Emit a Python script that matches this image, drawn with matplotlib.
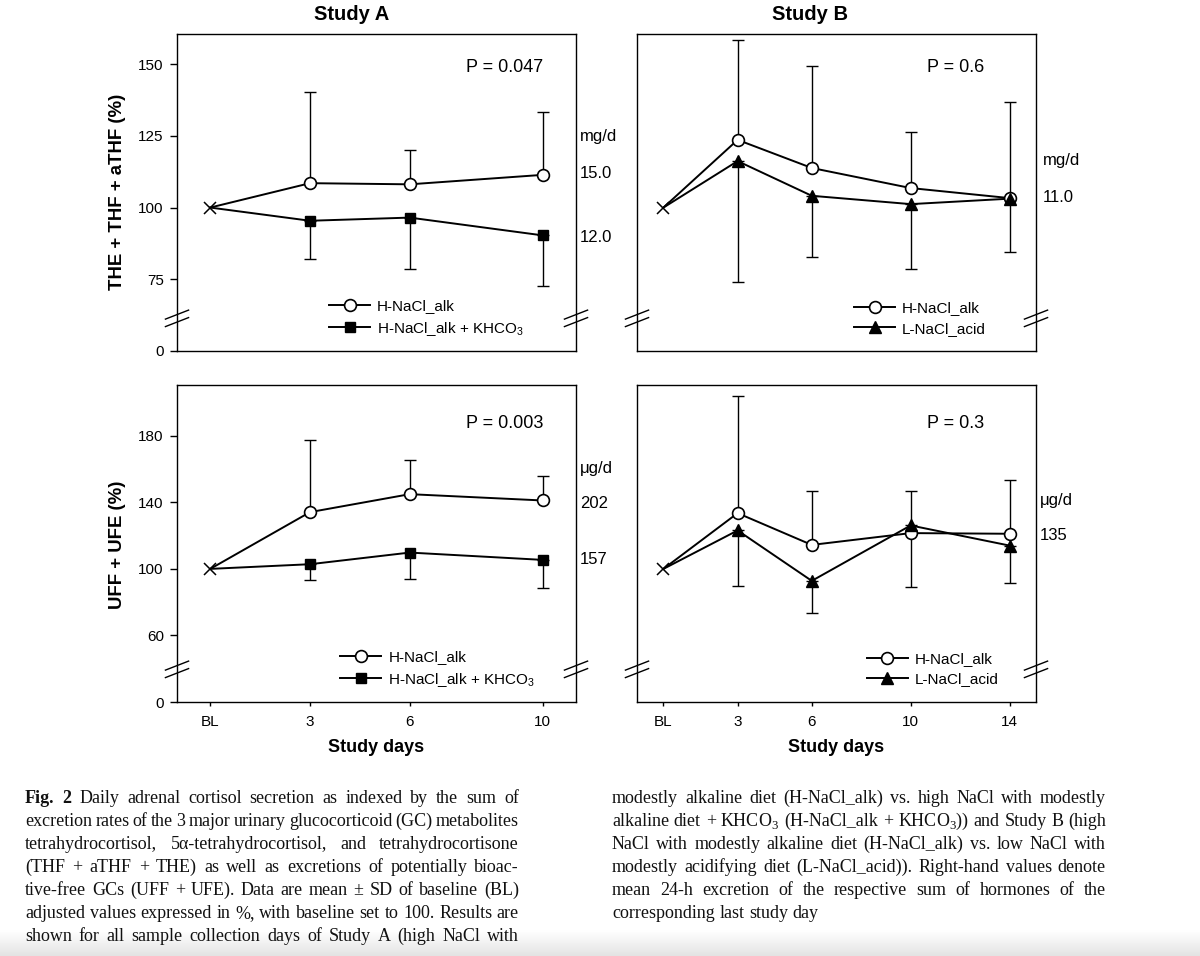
import numpy as np
import matplotlib
matplotlib.use('Agg')
import matplotlib.pyplot as plt
from matplotlib.lines import Line2D

W, H, DPI = 1200, 956, 100
plt.rcParams['font.family'] = ['Liberation Sans', 'DejaVu Sans']

# ---------------- data ----------------
days_A = [0, 3, 6, 10]
xtick_labels_A = ['BL', '3', '6', '10']
days_B = [0, 3, 6, 10, 14]
xtick_labels_B = ['BL', '3', '6', '10', '14']

# THE + THF + aTHF (%), Study A
a_gc_alk = [100, 108.5, 108.1, 111.4]
a_gc_alk_sd = [0, 31.8, 11.9, 21.9]
a_gc_khco3 = [100, 95.4, 96.5, 90.3]
a_gc_khco3_sd = [0, 13.5, 17.8, 17.6]

# THE + THF + aTHF (%), Study B
b_gc_alk = [100, 123.6, 113.8, 106.8, 103.3]
b_gc_alk_sd = [0, 34.9, 35.4, 19.6, 33.5]
b_gc_acid = [100, 116.2, 104.1, 101.2, 103.1]
b_gc_acid_sd = [0, 42.0, 21.5, 22.6, 18.7]

# UFF + UFE (%), Study A
a_uf_alk = [100, 134.1, 144.9, 141.1]
a_uf_alk_sd = [0, 43.3, 20.3, 15.0]
a_uf_khco3 = [100, 102.8, 109.8, 105.4]
a_uf_khco3_sd = [0, 9.4, 16.0, 17.0]

# UFF + UFE (%), Study B
b_uf_alk = [100, 133.5, 114.4, 121.5, 121.1]
b_uf_alk_sd = [0, 70.6, 32.1, 25.0, 32.4]
b_uf_acid = [100, 123.1, 92.8, 126.1, 114.0]
b_uf_acid_sd = [0, 33.3, 19.1, 37.1, 22.2]

# broken y axes: bottom tick labelled "0"
gc_yticks = [50, 75, 100, 125, 150]
gc_ytick_labels = ['0', '75', '100', '125', '150']
gc_ylim = (50, 160.5)
uf_yticks = [20, 60, 100, 140, 180]
uf_ytick_labels = ['0', '60', '100', '140', '180']
uf_ylim = (20, 210.5)

p_values = ['P = 0.047', 'P = 0.6', 'P = 0.003', 'P = 0.3']
right_gc_A = ['mg/d', '15.0', '12.0']
right_gc_B = ['mg/d', '11.0']
right_uf_A = ['\u03bcg/d', '202', '157']
right_uf_B = ['\u03bcg/d', '135']

lab_alk = 'H-NaCl_alk'
lab_khco3 = 'H-NaCl_alk + KHCO$_\\mathregular{3}$'
lab_acid = 'L-NaCl_acid'

# ---------------- figure ----------------
fig = plt.figure(figsize=(W / DPI, H / DPI), dpi=DPI)

# faint gradient at the bottom edge
gax = fig.add_axes([0, 0, 1, 26 / H])
grad = np.linspace(0.89, 1.0, 64).reshape(-1, 1)
gax.imshow(grad, aspect='auto', cmap='gray', vmin=0, vmax=1, origin='lower',
           extent=[0, 1, 0, 1])
gax.set_axis_off()


def pax(l, t, r, b):
    return fig.add_axes([l / W, 1 - b / H, (r - l) / W, (b - t) / H])


def ftext(x, y, s, **kw):
    return fig.text(x / W, 1 - y / H, s, **kw)


ax_tl = pax(177, 34, 576, 351)
ax_tr = pax(637, 34, 1036, 351)
ax_bl = pax(177, 385, 576, 702)
ax_br = pax(637, 385, 1036, 702)

LW = 1.4


def panel(ax, days, s1, sd1, s2, sd2, m2, ms2):
    d = np.array(days)
    s1 = np.array(s1); s2 = np.array(s2)
    sd1 = np.array(sd1); sd2 = np.array(sd2)
    z = np.zeros(len(d) - 1)
    ax.errorbar(d[1:], s1[1:], yerr=[z, sd1[1:]], fmt='none', ecolor='k',
                elinewidth=1.0, capsize=4.5, capthick=1.0, zorder=2)
    ax.errorbar(d[1:], s2[1:], yerr=[sd2[1:], z], fmt='none', ecolor='k',
                elinewidth=1.0, capsize=4.5, capthick=1.0, zorder=2)
    ax.plot(d, s1, color='k', lw=LW, zorder=3)
    ax.plot(d, s2, color='k', lw=LW, zorder=3)
    ax.plot(d[1:], s1[1:], 'o', mfc='white', mec='k', ms=8.5, mew=1.2, zorder=4)
    ax.plot(d[1:], s2[1:], m2, mfc='k', mec='k', ms=ms2, mew=1.0, zorder=5)
    ax.plot(d[:1], s1[:1], 'x', color='k', ms=9, mew=1.1, zorder=6)


def breaks(ax, y=0.103):
    dx, dy, off = 0.029, 0.0142, 0.0118
    for xa in (0, 1):
        for o in (-off, off):
            ax.plot([xa - dx, xa + dx], [y + o - dy, y + o + dy],
                    transform=ax.transAxes, color='k', lw=1.0,
                    clip_on=False, zorder=7)


def style(ax, xlim, xticks, xlabels, ylim, yticks, ylabels, show_x, show_y):
    ax.set_xlim(*xlim)
    ax.set_ylim(*ylim)
    for sp in ax.spines.values():
        sp.set_linewidth(1.0)
    ax.set_xticks(xticks)
    ax.set_yticks(yticks)
    if show_x:
        ax.set_xticklabels(xlabels, fontsize=11)
        ax.tick_params(axis='x', direction='out', length=3.2, width=1.0, pad=6)
    else:
        ax.tick_params(axis='x', length=0, labelbottom=False)
    if show_y:
        ax.set_yticklabels(ylabels, fontsize=11)
        ax.tick_params(axis='y', direction='out', length=5, width=1.0, pad=4.5)
    else:
        ax.tick_params(axis='y', length=0, labelleft=False)


def legend(ax, h2, l2, x, y):
    h1 = Line2D([], [], color='k', lw=LW, marker='o', mfc='white', mec='k', ms=8.5, mew=1.2)
    ax.legend([h1, h2], [lab_alk, l2], loc='upper left', bbox_to_anchor=(x, y),
              frameon=False, borderpad=0, borderaxespad=0, handlelength=2.7,
              handletextpad=0.45, labelspacing=0.42, fontsize=11, numpoints=1)


sq = Line2D([], [], color='k', lw=LW, marker='s', mfc='k', mec='k', ms=7.5)
tri = Line2D([], [], color='k', lw=LW, marker='^', mfc='k', mec='k', ms=8)

panel(ax_tl, days_A, a_gc_alk, a_gc_alk_sd, a_gc_khco3, a_gc_khco3_sd, 's', 7.5)
panel(ax_tr, days_B, b_gc_alk, b_gc_alk_sd, b_gc_acid, b_gc_acid_sd, '^', 8)
panel(ax_bl, days_A, a_uf_alk, a_uf_alk_sd, a_uf_khco3, a_uf_khco3_sd, 's', 7.5)
panel(ax_br, days_B, b_uf_alk, b_uf_alk_sd, b_uf_acid, b_uf_acid_sd, '^', 8)

style(ax_tl, (-1, 11), days_A, xtick_labels_A, gc_ylim, gc_yticks, gc_ytick_labels, False, True)
style(ax_tr, (-1.07, 15.07), days_B, xtick_labels_B, gc_ylim, gc_yticks, gc_ytick_labels, False, False)
style(ax_bl, (-1, 11), days_A, xtick_labels_A, uf_ylim, uf_yticks, uf_ytick_labels, True, True)
style(ax_br, (-1.07, 15.07), days_B, xtick_labels_B, uf_ylim, uf_yticks, uf_ytick_labels, True, False)

for a in (ax_tl, ax_tr, ax_bl, ax_br):
    breaks(a)

legend(ax_tl, sq, lab_khco3, 0.381, 0.163)
legend(ax_bl, sq, lab_khco3, 0.409, 0.163)
legend(ax_tr, tri, lab_acid, 0.544, 0.157)
legend(ax_br, tri, lab_acid, 0.576, 0.158)

# titles / axis labels
ftext(352, 14, 'Study A', fontsize=14.5, weight='bold', ha='center', va='center')
ftext(810, 14, 'Study B', fontsize=14.5, weight='bold', ha='center', va='center')
ftext(117, 192, 'THE + THF + aTHF (%)', fontsize=13.4, weight='bold',
      rotation=90, ha='center', va='center')
ftext(117, 545, 'UFF + UFE (%)', fontsize=13.4, weight='bold',
      rotation=90, ha='center', va='center')
ftext(376, 748, 'Study days', fontsize=13, weight='bold', ha='center', va='center')
ftext(836, 748, 'Study days', fontsize=13, weight='bold', ha='center', va='center')

# P values
for (x, y), s in zip([(505, 67), (956, 67), (505, 423), (956, 423)], p_values):
    ftext(x, y, s, fontsize=13, ha='center', va='center')

# right-hand values
for ys, labs, x in [([137, 174, 237], right_gc_A, 580),
                    ([160, 198], right_gc_B, 1043),
                    ([468, 503, 560], right_uf_A, 580),
                    ([500, 536], right_uf_B, 1040)]:
    for y, s in zip(ys, labs):
        ftext(x, y, s, fontsize=12, ha='left', va='center')

# ---------------- caption (justified) ----------------
CAP_SIZE = 13
SERIF = ['Liberation Serif', 'DejaVu Serif']
renderer = fig.canvas.get_renderer()


def cap_line(tokens, x0, x1, y, justify=True):
    texts, widths = [], []
    for s, wt in tokens:
        t = fig.text(0, 0, s, fontsize=CAP_SIZE, family=SERIF, weight=wt,
                     ha='left', va='baseline', color='#111111')
        texts.append(t)
        widths.append(t.get_window_extent(renderer).width)
    n = len(texts)
    gap = (x1 - x0 - sum(widths)) / (n - 1) if (justify and n > 1) else CAP_SIZE * 0.25 * DPI / 72
    x = x0
    for t, w in zip(texts, widths):
        t.set_position((x / W, 1 - y / H))
        x += w + gap


def toks(s, bold_first=0):
    words = s.split(' ')
    return [(w, 'bold' if i < bold_first else 'normal') for i, w in enumerate(words)]


left_lines = [
    "Fig. 2 Daily adrenal cortisol secretion as indexed by the sum of",
    "excretion rates of the 3 major urinary glucocorticoid (GC) metabolites",
    "tetrahydrocortisol, 5\u03b1-tetrahydrocortisol, and tetrahydrocortisone",
    "(THF + aTHF + THE) as well as excretions of potentially bioac-",
    "tive-free GCs (UFF + UFE). Data are mean \u00b1 SD of baseline (BL)",
    "adjusted values expressed in %, with baseline set to 100. Results are",
    "shown for all sample collection days of Study A (high NaCl with",
]
right_lines = [
    "modestly alkaline diet (H-NaCl_alk) vs. high NaCl with modestly",
    "alkaline diet + KHCO$_\\mathregular{3}$ (H-NaCl_alk + KHCO$_\\mathregular{3}$)) and Study B (high",
    "NaCl with modestly alkaline diet (H-NaCl_alk) vs. low NaCl with",
    "modestly acidifying diet (L-NaCl_acid)). Right-hand values denote",
    "mean 24-h excretion of the respective sum of hormones of the",
    "corresponding last study day",
]

base0, lsp = 802.7, 23.0
for i, s in enumerate(left_lines):
    cap_line(toks(s, 2 if i == 0 else 0), 25, 519, base0 + i * lsp)
for i, s in enumerate(right_lines):
    cap_line(toks(s), 612, 1106, base0 + i * lsp, justify=(i < len(right_lines) - 1))

fig.savefig('out.png', dpi=DPI)
